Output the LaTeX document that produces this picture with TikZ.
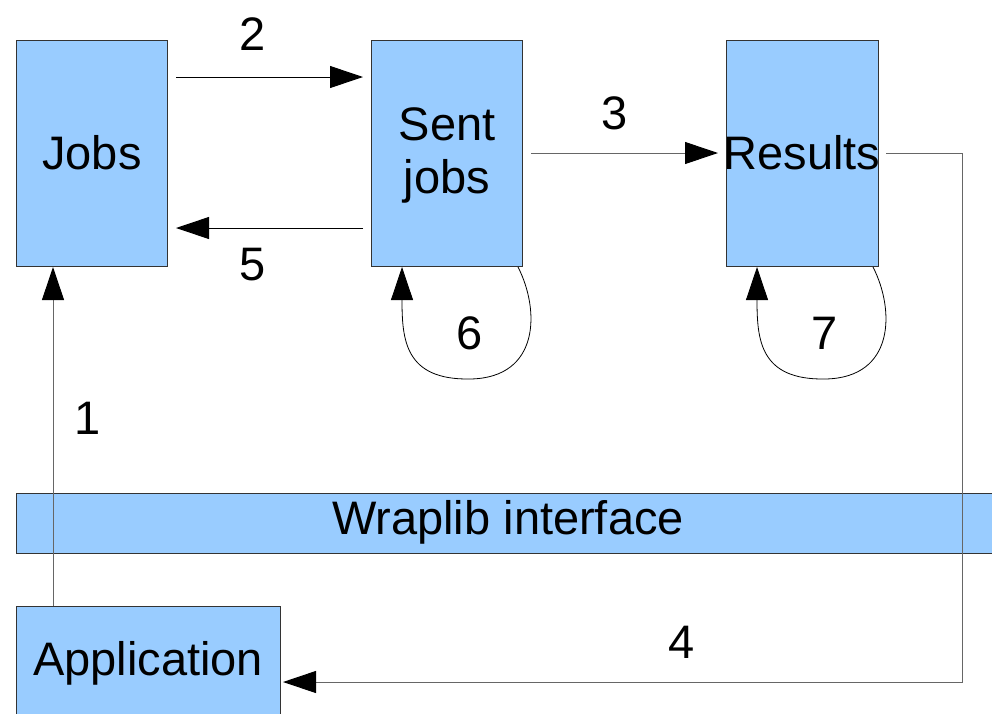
\documentclass[tikz,border=0pt]{standalone}
\usepackage{fontspec}
\setmainfont{Liberation Sans}
\usetikzlibrary{arrows.meta}
\definecolor{boxblue}{HTML}{99CCFF}
\definecolor{boxedge}{HTML}{333333}
\definecolor{wire}{HTML}{666666}
\tikzset{
  block/.style={draw=boxedge, line width=1pt, fill=boxblue, inner sep=0pt,
    anchor=north west, align=center, font=\fontsize{47}{53}\selectfont},
  lbl/.style={font=\fontsize{47}{53}\selectfont, inner sep=0pt},
  link/.style={line width=1pt, draw=black,
    -{Triangle[length=33pt,width=22pt,color=black]}},
  wirelink/.style={link, draw=wire},
}
\begin{document}
\begin{tikzpicture}[x=1pt, y=-1pt]
  \useasboundingbox (0,0) rectangle (992,713);

  % storage boxes
  \node[block, minimum width=151pt, minimum height=226pt] (jobs) at (16,40) {};
  \node[lbl] at (92,153) {Jobs};
  \node[block, minimum width=151pt, minimum height=226pt] (sent) at (371,40) {};
  \node[lbl, align=center] at (447,155) {Sent\\jobs};
  \node[block, minimum width=152pt, minimum height=226pt] (res) at (726,40) {};
  \node[lbl] at (802,153) {Results};

  % interface bar and application
  \begin{scope}
    \clip (0,0) rectangle (992,713);
    \node[block, minimum width=990pt, minimum height=60pt] (wrap) at (16,493) {};
    \node[block, minimum width=264pt, minimum height=120pt] (app) at (16,606) {};
  \end{scope}
  \node[lbl] at (508,522) {Wraplib interface};
  \node[lbl] at (148,663) {Application};

  % helper coordinates
  \coordinate (x1) at (53,0);
  \coordinate (y2) at (0,77);
  \coordinate (y5) at (0,228);
  \coordinate (y3) at (0,153);
  \coordinate (c4a) at (962,153);
  \coordinate (c4b) at (962,682);
  \coordinate (y4) at (0,682);

  % 1: application feeds jobs
  \draw[wirelink] (app.north -| x1) -- (jobs.south -| x1);
  % 2: jobs are sent
  \draw[link, shorten <=8pt, shorten >=8pt] (jobs.east |- y2) -- (sent.west |- y2);
  % 5: sent jobs returned
  \draw[link, shorten <=8pt, shorten >=8pt] (sent.west |- y5) -- (jobs.east |- y5);
  % 3: results come back
  \draw[wirelink, shorten <=8pt, shorten >=8pt] (sent.east |- y3) -- (res.west |- y3);
  % 4: results delivered to the application
  \draw[wirelink, shorten <=7pt, shorten >=2pt]
    (res.east |- y3) -- (c4a) -- (c4b) -- (app.east |- y4);

  % 6 and 7: self loops
  \draw[link, line width=0.8pt] ([xshift=-5pt]sent.south east)
    .. controls (540,310) and (540,378) .. (470,379)
    .. controls (405,380) and (402,340) .. ([xshift=31pt]sent.south west);
  \draw[link, line width=0.8pt] ([xshift=-6pt]res.south east)
    .. controls (895,310) and (895,378) .. (825,379)
    .. controls (760,380) and (757,340) .. ([xshift=31pt]res.south west);

  % step numbers
  \node[lbl] at (88,418) {1};
  \node[lbl] at (253,34) {2};
  \node[lbl] at (615,113) {3};
  \node[lbl] at (682,642) {4};
  \node[lbl] at (253,265) {5};
  \node[lbl] at (470,333) {6};
  \node[lbl] at (825,333) {7};
\end{tikzpicture}
\end{document}
